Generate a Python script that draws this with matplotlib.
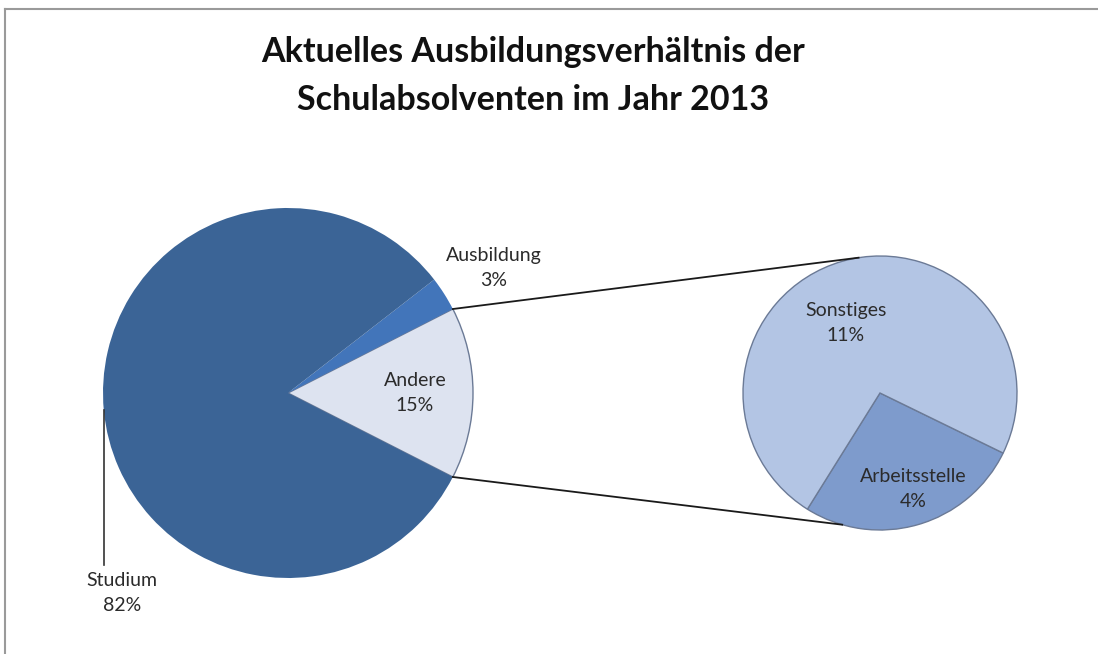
import numpy as np
import matplotlib
matplotlib.use("Agg")
import matplotlib.pyplot as plt

# Data
main_labels = ["Andere", "Ausbildung", "Studium"]
main_values = [15, 3, 82]
sub_labels = ["Arbeitsstelle", "Sonstiges"]
sub_values = [4, 11]
title = "Aktuelles Ausbildungsverhältnis der\nSchulabsolventen im Jahr 2013"

main_colors = ["#dde3f0", "#4275ba", "#3b6496"]
sub_colors = ["#7e9bcc", "#b3c5e4"]

W, H = 1098, 654
fig = plt.figure(figsize=(W / 100, H / 100), dpi=100)
ax = fig.add_axes([0, 0, 1, 1])

def py(y):
    return H - y

font = ["Lato", "DejaVu Sans"]

# main pie
c1 = (288, py(393)); r1 = 185
start1 = -main_values[0] / sum(main_values) * 360 / 2
w1, _ = ax.pie(main_values, colors=main_colors, startangle=start1, center=c1,
               radius=r1, counterclock=True, frame=True,
               wedgeprops=dict(linewidth=0))
w1[0].set_edgecolor("#6b7a96"); w1[0].set_linewidth(1.0)

# sub pie
c2 = (880, py(393)); r2 = 137
w2, _ = ax.pie(sub_values, colors=sub_colors, startangle=-122, center=c2,
               radius=r2, counterclock=True, frame=True,
               wedgeprops=dict(linewidth=1.0, edgecolor="#6b7a96"))

ax.set_xlim(0, W); ax.set_ylim(0, H)
ax.set_aspect("equal")
ax.axis("off")

# connector lines
a = np.deg2rad(abs(start1))
p_up = (c1[0] + r1 * np.cos(a), c1[1] + r1 * np.sin(a))
p_dn = (c1[0] + r1 * np.cos(a), c1[1] - r1 * np.sin(a))
e_up = (c2[0] + r2 * np.cos(np.deg2rad(99)), c2[1] + r2 * np.sin(np.deg2rad(99)))
e_dn = (c2[0] + r2 * np.cos(np.deg2rad(254)), c2[1] + r2 * np.sin(np.deg2rad(254)))
ax.plot([p_up[0], e_up[0]], [p_up[1], e_up[1]], color="#1a1a1a", lw=1.3)
ax.plot([p_dn[0], e_dn[0]], [p_dn[1], e_dn[1]], color="#1a1a1a", lw=1.3)

# Studium leader
ax.plot([104, 104], [py(410), py(565)], color="#333333", lw=1.2)

lab_kw = dict(ha="center", va="center", fontsize=14, color="#2b2b2b",
              family=font, linespacing=1.6)
ax.text(494, py(268), f"{main_labels[1]}\n{main_values[1]}%", **lab_kw)
ax.text(415, py(393), f"{main_labels[0]}\n{main_values[0]}%", **lab_kw)
ax.text(122, py(593), f"{main_labels[2]}\n{main_values[2]}%", **lab_kw)
ax.text(846, py(323), f"{sub_labels[1]}\n{sub_values[1]}%", **lab_kw)
ax.text(913, py(489), f"{sub_labels[0]}\n{sub_values[0]}%", **lab_kw)

ax.text(533, py(76), title, ha="center", va="center", fontsize=24.5,
        fontweight="bold", color="#111111", family=font, linespacing=1.62)

# border (top and left only)
ax.plot([5, W + 5], [py(9), py(9)], color="#9a9a9a", lw=1.5, clip_on=False)
ax.plot([5, 5], [py(9), -5], color="#9a9a9a", lw=1.5, clip_on=False)

fig.savefig("out.png", dpi=100)
